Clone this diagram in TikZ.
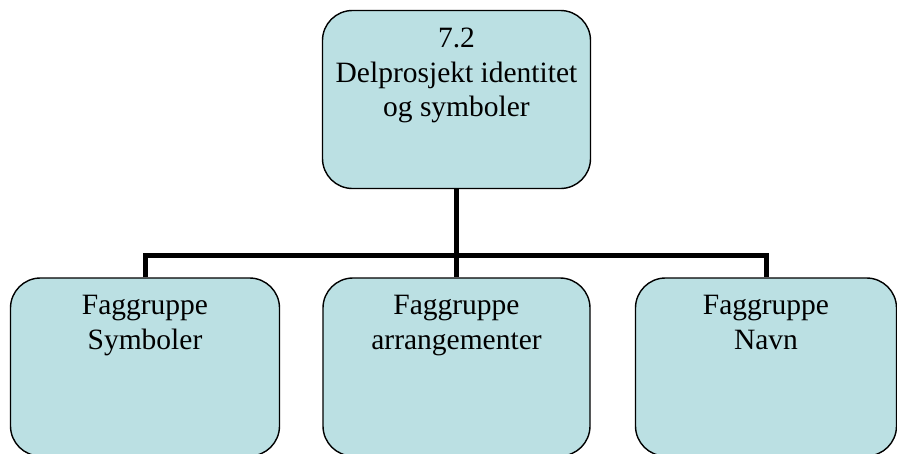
\documentclass[tikz,border=0pt]{standalone}
\usepackage{fontspec}
\setmainfont{Liberation Serif}
\usetikzlibrary{positioning}

\definecolor{boxblue}{HTML}{BBE0E3}

\tikzset{
    grpbox/.style={draw, fill=boxblue, line width=1.4pt, rounded corners=30pt,
        minimum height=178pt, inner sep=0pt},
    grptext/.style={align=center, inner sep=0pt,
        font=\fontsize{29.5}{34.5}\selectfont},
    link/.style={line width=5pt, line join=miter}
}

\begin{document}
\begin{tikzpicture}
    \useasboundingbox (0,0) rectangle (897pt,-453pt);

    % Top box
    \node[grpbox, minimum width=268pt] (delprosjekt) at (456.5pt,-99.5pt) {};
    \node[grptext, below=18pt of delprosjekt.north] (delprosjekttext) {7.2\\Delprosjekt identitet\\og symboler};

    % Bottom boxes
    \node[grpbox, minimum width=269pt] (symboler) at (145pt,-367pt) {};
    \node[grptext, below=18pt of symboler.north] (symbolertext) {Faggruppe\\Symboler};

    \node[grpbox, minimum width=267pt] (arrangementer) at (456.5pt,-367pt) {};
    \node[grptext, below=18pt of arrangementer.north] (arrangementertext) {Faggruppe\\arrangementer};

    \node[grpbox, minimum width=261pt] (navn) at (766pt,-367pt) {};
    \node[grptext, below=18pt of navn.north] (navntext) {Faggruppe\\Navn};

    % Connectors
    \coordinate (hub) at (456.5pt,-255pt);
    \draw[link] (delprosjekt.south) -- (hub) -- (arrangementer.north);
    \draw[link] (symboler.north) |- (hub) -| (navn.north);
\end{tikzpicture}
\end{document}
